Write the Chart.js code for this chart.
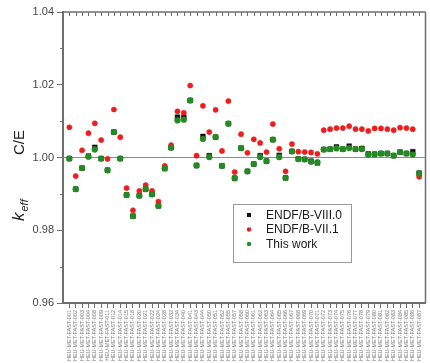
<!DOCTYPE html>
<html>
<head>
<meta charset="utf-8">
<script src="https://cdn.jsdelivr.net/npm/chart.js@4.4.1/dist/chart.umd.min.js"></script>
<style>
html,body{margin:0;padding:0;background:#fff;}
#wrap{width:430px;height:363px;}
</style>
</head>
<body>
<div id="wrap"><canvas id="c" width="430" height="363"></canvas></div>
<script>
const categories = [
  'HEU-MET-FAST-001','HEU-MET-FAST-002','HEU-MET-FAST-003','HEU-MET-FAST-004','HEU-MET-FAST-008',
  'HEU-MET-FAST-009','HEU-MET-FAST-011','HEU-MET-FAST-012','HEU-MET-FAST-014','HEU-MET-FAST-015',
  'HEU-MET-FAST-018','HEU-MET-FAST-020','HEU-MET-FAST-021','HEU-MET-FAST-022','HEU-MET-FAST-024',
  'HEU-MET-FAST-028','HEU-MET-FAST-032','HEU-MET-FAST-034','HEU-MET-FAST-040','HEU-MET-FAST-041',
  'HEU-MET-FAST-043','HEU-MET-FAST-044','HEU-MET-FAST-050','HEU-MET-FAST-051','HEU-MET-FAST-052',
  'HEU-MET-FAST-055','HEU-MET-FAST-057','HEU-MET-FAST-058','HEU-MET-FAST-060','HEU-MET-FAST-061',
  'HEU-MET-FAST-062','HEU-MET-FAST-063','HEU-MET-FAST-064','HEU-MET-FAST-065','HEU-MET-FAST-066',
  'HEU-MET-FAST-067','HEU-MET-FAST-068','HEU-MET-FAST-069','HEU-MET-FAST-070','HEU-MET-FAST-071',
  'HEU-MET-FAST-072','HEU-MET-FAST-073','HEU-MET-FAST-074','HEU-MET-FAST-075','HEU-MET-FAST-076',
  'HEU-MET-FAST-077','HEU-MET-FAST-078','HEU-MET-FAST-079','HEU-MET-FAST-080','HEU-MET-FAST-081',
  'HEU-MET-FAST-082','HEU-MET-FAST-083','HEU-MET-FAST-084','HEU-MET-FAST-085','HEU-MET-FAST-086',
  'HEU-MET-FAST-087'
];
const endf80 = [
  0.9997,0.9913,0.9971,1.0004,1.0028,0.9997,0.9965,1.0070,0.9997,0.9897,
  0.9839,0.9895,0.9913,0.9899,0.9867,0.9970,1.0027,1.0111,1.0111,1.0157,
  0.9978,1.0058,1.0005,1.0056,0.9977,1.0093,0.9943,1.0026,0.9962,0.9982,
  1.0005,0.9990,1.0049,1.0006,0.9944,1.0017,0.9996,0.9995,0.9990,0.9985,
  1.0022,1.0023,1.0029,1.0023,1.0031,1.0023,1.0025,1.0010,1.0009,1.0011,
  1.0011,1.0005,1.0015,1.0011,1.0016,0.9957
];
const endf71 = [
  1.0083,0.9949,1.0020,1.0067,1.0094,1.0048,0.9996,1.0132,1.0056,0.9916,
  0.9855,0.9908,0.9924,0.9908,0.9879,0.9977,1.0034,1.0127,1.0123,1.0198,
  1.0005,1.0142,1.0070,1.0131,1.0018,1.0155,0.9960,1.0064,1.0013,1.0050,
  1.0040,1.0015,1.0092,1.0024,0.9962,1.0037,1.0016,1.0015,1.0014,1.0010,
  1.0075,1.0078,1.0081,1.0081,1.0086,1.0078,1.0078,1.0073,1.0080,1.0080,
  1.0078,1.0075,1.0082,1.0081,1.0078,0.9947
];
const thisWork = [
  0.9997,0.9913,0.9971,1.0002,1.0022,0.9997,0.9965,1.0070,0.9997,0.9897,
  0.9839,0.9895,0.9913,0.9899,0.9867,0.9970,1.0027,1.0102,1.0104,1.0157,
  0.9978,1.0051,1.0001,1.0056,0.9977,1.0093,0.9943,1.0026,0.9962,0.9982,
  1.0001,0.9990,1.0049,1.0001,0.9944,1.0017,0.9996,0.9995,0.9988,0.9987,
  1.0022,1.0023,1.0025,1.0023,1.0026,1.0023,1.0023,1.0008,1.0009,1.0011,
  1.0011,1.0005,1.0015,1.0011,1.0008,0.9956
];
const seriesNames = ['ENDF/B-VIII.0','ENDF/B-VII.1','This work'];
const yTickValues = [0.96, 0.98, 1.00, 1.02, 1.04];
const yMinorTicks = [0.97, 0.99, 1.01, 1.03];
const referenceValue = 1.00;

const toPts = arr => arr.map((v, i) => ({x: i + 1, y: v}));
const COL_BLACK = '#111111', COL_RED = '#ee1c1c', COL_GREEN = '#228b22';
const AXIS = '#6e6e6e';

const decor = {
  id: 'decor',
  beforeDatasetsDraw(chart) {
    const {ctx, chartArea: a, scales: {y}} = chart;
    ctx.save();
    const yr = y.getPixelForValue(referenceValue);
    ctx.strokeStyle = '#8c8c8c'; ctx.lineWidth = 1;
    ctx.beginPath(); ctx.moveTo(a.left, yr); ctx.lineTo(a.right, yr); ctx.stroke();
    ctx.restore();
  },
  afterDraw(chart) {
    const {ctx, chartArea: a, scales: {x, y}} = chart;
    ctx.save();
    ctx.strokeStyle = AXIS;
    ctx.lineWidth = 1.5;
    ctx.beginPath(); ctx.moveTo(a.left, a.top); ctx.lineTo(a.right, a.top); ctx.stroke();
    ctx.beginPath(); ctx.moveTo(a.right, a.top); ctx.lineTo(a.right, a.bottom); ctx.stroke();
    ctx.lineWidth = 1;
    categories.forEach((c, i) => {
      const px = Math.round(x.getPixelForValue(i + 1)) + 0.5;
      ctx.beginPath(); ctx.moveTo(px, a.top); ctx.lineTo(px, a.top + 4); ctx.stroke();
    });
    yMinorTicks.forEach(v => {
      const py = Math.round(y.getPixelForValue(v)) + 0.5;
      ctx.beginPath(); ctx.moveTo(a.left - 3, py); ctx.lineTo(a.left, py); ctx.stroke();
    });
    // y-axis title: k_eff C/E
    ctx.fillStyle = '#222';
    ctx.translate(24, 221);
    ctx.rotate(-Math.PI / 2);
    ctx.textBaseline = 'alphabetic';
    ctx.font = 'italic 17px "Liberation Sans", Arial, sans-serif';
    ctx.fillText('k', 0, 0);
    const kw = ctx.measureText('k').width;
    ctx.font = 'italic 11px "Liberation Sans", Arial, sans-serif';
    ctx.fillText('eff', kw + 1, 4);
    ctx.font = '15px "Liberation Sans", Arial, sans-serif';
    ctx.fillText('C/E', 66, 0);
    ctx.restore();

    // legend
    ctx.save();
    const bx = 233, by = 204, bw = 118, bh = 58;
    ctx.fillStyle = '#fff';
    ctx.fillRect(bx, by, bw, bh);
    ctx.strokeStyle = '#9a9a9a'; ctx.lineWidth = 1;
    ctx.strokeRect(bx + 0.5, by + 0.5, bw, bh);
    const rows = [
      {name: seriesNames[0], color: COL_BLACK, shape: 'rect'},
      {name: seriesNames[1], color: COL_RED, shape: 'circle'},
      {name: seriesNames[2], color: COL_GREEN, shape: 'circle'}
    ];
    ctx.font = '12px "Liberation Sans", Arial, sans-serif';
    ctx.textBaseline = 'middle';
    rows.forEach((r, i) => {
      const ry = by + 11 + i * 14.5;
      ctx.fillStyle = r.color;
      if (r.shape === 'rect') ctx.fillRect(247, ry - 2, 4, 4);
      else { ctx.beginPath(); ctx.arc(249, ry, 2.2, 0, Math.PI * 2); ctx.fill(); }
      ctx.fillStyle = '#1a1a1a';
      ctx.fillText(r.name, 266, ry + 0.5);
    });
    ctx.restore();
  }
};

new Chart(document.getElementById('c'), {
  type: 'scatter',
  data: {
    datasets: [
      {label: seriesNames[2], data: toPts(thisWork), backgroundColor: COL_GREEN, borderColor: COL_GREEN,
       borderWidth: 0.5, pointRadius: 2.9, pointStyle: 'circle', order: 0},
      {label: seriesNames[1], data: toPts(endf71), backgroundColor: COL_RED, borderColor: COL_RED,
       borderWidth: 0.5, pointRadius: 2.6, pointStyle: 'circle', order: 1},
      {label: seriesNames[0], data: toPts(endf80), backgroundColor: COL_BLACK, borderColor: COL_BLACK,
       borderWidth: 0.5, pointRadius: 3.4, pointStyle: 'rect', order: 2}
    ]
  },
  options: {
    responsive: false,
    animation: false,
    layout: {padding: {left: 0, top: 12, right: 3, bottom: 0}},
    plugins: {legend: {display: false}, tooltip: {enabled: false}},
    scales: {
      x: {
        type: 'linear', min: 0, max: categories.length + 1,
        afterBuildTicks: s => { s.ticks = categories.map((c, i) => ({value: i + 1})); },
        afterFit: s => { s.height = 60; },
        grid: {drawOnChartArea: false, drawTicks: true, tickLength: 5, color: AXIS, lineWidth: 1},
        border: {display: true, color: AXIS, width: 2},
        ticks: {
          autoSkip: false, maxRotation: 90, minRotation: 90, padding: 2,
          color: '#777', font: {size: 5.5, family: '"Liberation Sans", Arial, sans-serif'},
          callback: v => categories[v - 1] || ''
        }
      },
      y: {
        min: 0.96, max: 1.04,
        afterBuildTicks: s => { s.ticks = yTickValues.map(v => ({value: v})); },
        afterFit: s => { s.width = 63; },
        grid: {drawOnChartArea: false, drawTicks: true, tickLength: 6, color: AXIS, lineWidth: 1},
        border: {display: true, color: AXIS, width: 2},
        ticks: {
          padding: 3, color: '#444',
          font: {size: 11, family: '"Liberation Sans", Arial, sans-serif'},
          callback: v => Number(v).toFixed(2)
        }
      }
    }
  },
  plugins: [decor]
});
</script>
</body>
</html>
